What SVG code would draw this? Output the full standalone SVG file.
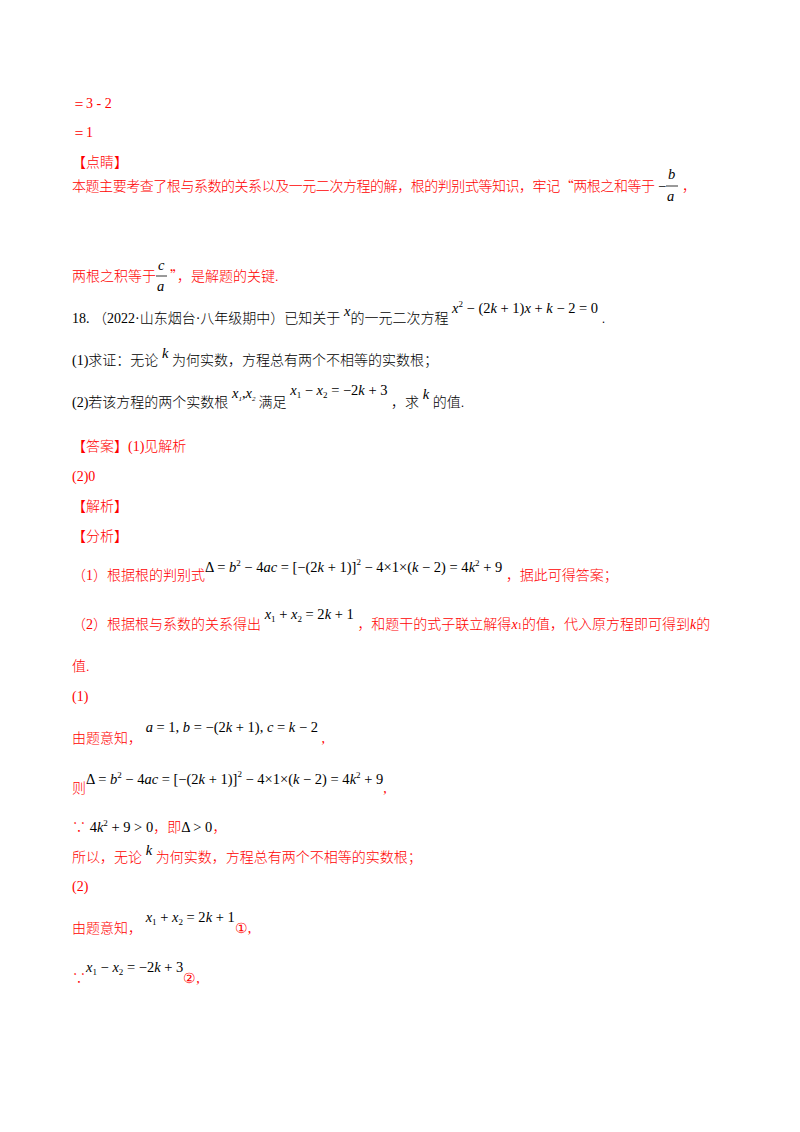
<svg xmlns="http://www.w3.org/2000/svg" width="800" height="1132" viewBox="0 0 800 1132">
<style>
text{font-family:"Noto Sans CJK SC","Liberation Serif",sans-serif;font-size:14px;font-weight:300}
.r{fill:#f00}
.k{fill:#000}
.m{font-family:"Liberation Serif",serif;font-size:14.5px;fill:#000;font-weight:normal}
.i{font-style:italic}
.s{font-size:9px}
.n{font-family:"Liberation Serif",serif;font-weight:normal}
</style>
<rect width="800" height="1132" fill="#fff"/>
<text class="r n" x="72" y="108">＝3 - 2</text>
<text class="r n" x="72" y="137">＝1</text>
<text class="r" x="72" y="167">【点睛】</text>
<text class="r" x="72" y="191" textLength="583">本题主要考查了根与系数的关系以及一元二次方程的解，根的判别式等知识，牢记“两根之和等于</text>
<g class="m"><text class="m" x="658" y="191">−</text><text class="m i" x="668" y="179">b</text><line x1="666" y1="186" x2="678" y2="186" stroke="#000" stroke-width="0.8"/><text class="m i" x="667" y="201">a</text></g>
<text class="r" x="682" y="191">，</text>
<text class="r" x="72" y="281">两根之积等于</text>
<g><text class="m i" x="158" y="270">c</text><line x1="156" y1="276" x2="167" y2="276" stroke="#000" stroke-width="0.8"/><text class="m i" x="157" y="291">a</text></g>
<text class="r" x="170" y="281">”，是解题的关键.</text>

<text class="k" x="72" y="323"><tspan class="n">18.  </tspan>（<tspan class="n">2022·</tspan>山东烟台<tspan class="n">·</tspan>八年级期中）已知关于<tspan class="m i" dy="-7"> x</tspan><tspan dy="7">的一元二次方程</tspan><tspan class="m" dy="-10"> <tspan class="i">x</tspan><tspan class="s" dy="-6">2</tspan><tspan dy="6"> − (2</tspan><tspan class="i">k</tspan> + 1)<tspan class="i">x</tspan> + <tspan class="i">k</tspan> − 2 = 0 </tspan><tspan dy="10">.</tspan></text>
<text class="k" x="72" y="365"><tspan class="n">(1)</tspan>求证：无论<tspan class="m i" dy="-7"> k </tspan><tspan dy="7">为何实数，方程总有两个不相等的实数根；</tspan></text>
<text class="k" x="72" y="407"><tspan class="n">(2)</tspan>若该方程的两个实数根<tspan class="m i" font-size="10" dy="-9"> x<tspan font-size="7" dy="3">1</tspan><tspan dy="-3" font-style="normal">,</tspan>x<tspan font-size="7" dy="3">2</tspan></tspan><tspan dy="6"> 满足</tspan><tspan class="m" dy="-12"> <tspan class="i">x</tspan><tspan class="s" dy="3">1</tspan><tspan dy="-3"> − </tspan><tspan class="i">x</tspan><tspan class="s" dy="3">2</tspan><tspan dy="-3"> = −2</tspan><tspan class="i">k</tspan> + 3 </tspan><tspan dy="12">，求</tspan><tspan class="m i" dy="-8"> k </tspan><tspan dy="8">的值.</tspan></text>

<text class="r" x="72" y="451">【答案】<tspan class="n">(1)</tspan>见解析</text>
<text class="r n" x="72" y="481">(2)0</text>
<text class="r" x="72" y="511">【解析】</text>
<text class="r" x="72" y="541">【分析】</text>
<text class="r" x="72" y="580">（<tspan class="n">1</tspan>）根据根的判别式<tspan class="m" dy="-8">Δ = <tspan class="i">b</tspan><tspan class="s" dy="-6">2</tspan><tspan dy="6"> − 4</tspan><tspan class="i">ac</tspan> = [−(2<tspan class="i">k</tspan> + 1)]<tspan class="s" dy="-7">2</tspan><tspan dy="7"> − 4×1×(</tspan><tspan class="i">k</tspan> − 2) = 4<tspan class="i">k</tspan><tspan class="s" dy="-6">2</tspan><tspan dy="6"> + 9 </tspan></tspan><tspan dy="8">，据此可得答案；</tspan></text>
<text class="r" x="72" y="629">（<tspan class="n">2</tspan>）根据根与系数的关系得出<tspan class="m" dy="-10">  <tspan class="i">x</tspan><tspan class="s" dy="3">1</tspan><tspan dy="-3"> + </tspan><tspan class="i">x</tspan><tspan class="s" dy="3">2</tspan><tspan dy="-3"> = 2</tspan><tspan class="i">k</tspan> + 1  </tspan><tspan dy="10">，和题干的式子联立解得</tspan><tspan class="n i">x</tspan><tspan class="n" font-size="9">1</tspan>的值，代入原方程即可得到<tspan class="n i">k</tspan>的</text>
<text class="r" x="72" y="671">值.</text>
<text class="r n" x="72" y="701">(1)</text>
<text class="r" x="72" y="743">由题意知，<tspan class="m" dy="-11"> <tspan class="i">a</tspan> = 1, <tspan class="i">b</tspan> = −(2<tspan class="i">k</tspan> + 1), <tspan class="i">c</tspan> = <tspan class="i">k</tspan> − 2 </tspan><tspan class="n" dy="11">,</tspan></text>
<text class="r" x="72" y="793">则<tspan class="m" dy="-9">Δ = <tspan class="i">b</tspan><tspan class="s" dy="-6">2</tspan><tspan dy="6"> − 4</tspan><tspan class="i">ac</tspan> = [−(2<tspan class="i">k</tspan> + 1)]<tspan class="s" dy="-7">2</tspan><tspan dy="7"> − 4×1×(</tspan><tspan class="i">k</tspan> − 2) = 4<tspan class="i">k</tspan><tspan class="s" dy="-6">2</tspan><tspan dy="6"> + 9</tspan></tspan><tspan class="n" dy="9">,</tspan></text>
<text class="r" x="72" y="832">∵<tspan class="m"> 4<tspan class="i">k</tspan><tspan class="s" dy="-6">2</tspan><tspan dy="6"> + 9 &gt; 0</tspan></tspan>，即<tspan class="m">Δ &gt; 0</tspan>，</text>
<text class="r" x="72" y="862">所以，无论<tspan class="m i" dy="-7"> k </tspan><tspan dy="7">为何实数，方程总有两个不相等的实数根；</tspan></text>
<text class="r n" x="72" y="891">(2)</text>
<text class="r" x="72" y="933">由题意知，<tspan class="m" dy="-11"> <tspan class="i">x</tspan><tspan class="s" dy="3">1</tspan><tspan dy="-3"> + </tspan><tspan class="i">x</tspan><tspan class="s" dy="3">2</tspan><tspan dy="-3"> = 2</tspan><tspan class="i">k</tspan> + 1</tspan><tspan class="n" dy="11">①,</tspan></text>
<text class="r" x="72" y="983">∵<tspan class="m" dy="-11"><tspan class="i">x</tspan><tspan class="s" dy="3">1</tspan><tspan dy="-3"> − </tspan><tspan class="i">x</tspan><tspan class="s" dy="3">2</tspan><tspan dy="-3"> = −2</tspan><tspan class="i">k</tspan> + 3</tspan><tspan class="n" dy="11">②,</tspan></text>
</svg>
